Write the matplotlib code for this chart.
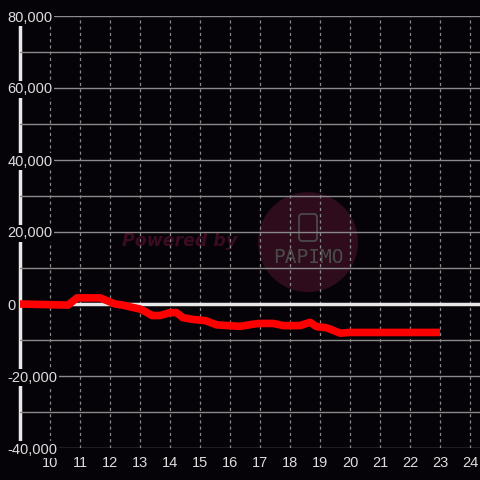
import matplotlib
matplotlib.use("Agg")
import matplotlib.pyplot as plt
from matplotlib.patches import Ellipse, FancyBboxPatch
from matplotlib.ticker import FuncFormatter

# data
hours = [9.0, 10.6, 10.9, 11.67, 12.17, 12.43, 12.67, 13.0, 13.17, 13.4, 13.67,
         14.0, 14.22, 14.43, 14.78, 15.17, 15.56, 16.33, 16.78, 17.0, 17.44,
         17.78, 18.33, 18.44, 18.67, 18.89, 19.22, 19.67, 20.0, 23.0]
balance = [0, -300, 1700, 1700, 0, -300, -800, -1400, -2100, -3200, -3200,
           -2400, -2400, -3800, -4300, -4600, -5800, -6200, -5600, -5400, -5400,
           -6000, -6000, -5700, -5100, -6300, -6600, -8100, -7900, -7900]
x_ticks = list(range(10, 25))
y_ticks = [-40000, -20000, 0, 20000, 40000, 60000, 80000]
y_minor = [-30000, -10000, 10000, 30000, 50000, 70000]

bg = "#050307"
txt = "#dddddd"
font_size = 10.5

fig = plt.figure(figsize=(4.8, 4.8), dpi=100, facecolor=bg)
ax = fig.add_axes([20 / 480, 32 / 480, 460 / 480, 432 / 480])
ax.set_facecolor(bg)
ax.set_xlim(9, 9 + 460 / 30)
ax.set_ylim(-40000, 80000)

# watermark
ax.add_patch(Ellipse((18.6, 17200), 100 / 30, 100 / 36 * 10000,
                     facecolor="#2e0c1c", edgecolor="none", zorder=0.1))
ax.text(18.6, 12800, "PAPIMO", color="#4a4a4a", fontsize=14, ha="center",
        va="center", family="DejaVu Sans Mono", fontstretch="condensed",
        zorder=0.2)
ax.add_patch(FancyBboxPatch((18.3, 17500), 0.6, 7500,
                            boxstyle="round,pad=0,rounding_size=0.1",
                            facecolor="none", edgecolor="#4a4a4a", lw=1.3,
                            zorder=0.2, mutation_aspect=10000))
ax.text(14.33, 17500, "Powered by", color="#3b0b22", fontsize=12.5,
        fontweight="bold", fontstyle="italic", ha="center", va="center",
        family="DejaVu Sans", zorder=0.2)

ax.set_axisbelow(True)
ax.set_xticks(x_ticks)
ax.set_yticks(y_ticks)
ax.set_yticks(y_minor, minor=True)
ax.yaxis.set_major_formatter(FuncFormatter(lambda v, p: f"{int(v):,}"))
ax.grid(axis="x", color="#888888", linestyle=(0, (2.5, 2.5)), linewidth=0.9)
ax.grid(axis="y", which="both", color="#8a8a8a", linestyle="-", linewidth=1.0)

ax.tick_params(axis="x", length=0, pad=6, labelsize=font_size, labelcolor=txt)
ax.tick_params(axis="y", which="both", length=0, pad=9, labelsize=font_size,
               labelcolor=txt)
for lab in ax.get_yticklabels():
    lab.set_horizontalalignment("left")
    lab.set_family("Liberation Sans")
    lab.set_bbox(dict(facecolor=bg, edgecolor="none", pad=1.2))
for lab in ax.get_xticklabels():
    lab.set_family("Liberation Sans")

for s in ["top", "right", "bottom"]:
    ax.spines[s].set_visible(False)
ax.spines["left"].set_color("#e8e8e8")
ax.spines["left"].set_linewidth(2.5)
ax.spines["left"].set_zorder(0.3)

ax.axhline(0, color="#e8e8e8", linewidth=2.5, zorder=1)

ax.plot(hours, balance, color="#ff0000", linewidth=5.5,
        solid_joinstyle="round", solid_capstyle="butt", zorder=3)

fig.savefig("out.png", dpi=100, facecolor=bg)
